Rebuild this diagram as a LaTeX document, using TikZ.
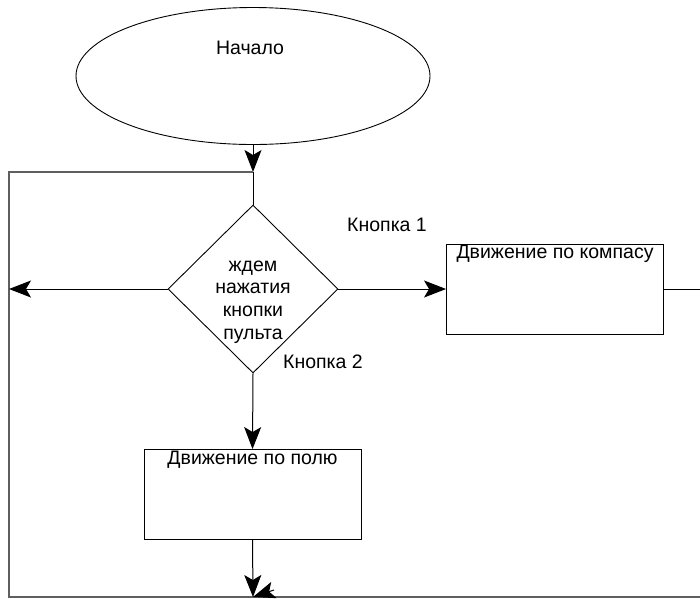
\documentclass[tikz,border=0pt]{standalone}
\usepackage{fontspec}
\setmainfont{Liberation Sans}
\usetikzlibrary{arrows.meta,positioning,shapes.geometric}
\definecolor{loopgray}{RGB}{95,95,95}
\tikzset{
  flow/.style={line width=1pt,black},
  tip/.style={-{Stealth[length=22pt,width=17pt,inset=5pt]}},
  loopline/.style={line width=1.4pt,loopgray},
  terminal/.style={ellipse,draw,line width=0.9pt,minimum width=354pt,minimum height=137pt,inner sep=0pt},
  waitbox/.style={diamond,draw,line width=0.9pt,minimum width=170pt,minimum height=168pt,inner sep=0pt},
  actbox/.style={rectangle,draw,line width=0.9pt,inner sep=0pt,minimum width=217pt,minimum height=90pt},
  txt/.style={font=\fontsize{19.5}{22.7}\selectfont}
}

\begin{document}
\begin{tikzpicture}[x=1pt,y=-1pt]
  \useasboundingbox (0,0) rectangle (700,598);

  % blocks
  \node[terminal] (start) at (253,76) {};
  \node[txt] (starttxt) at (250,48) {Начало};
  \node[waitbox] (wait) at (253,289) {};
  \node[txt,align=center] (waittxt) at (253,302) {ждем\\нажатия\\кнопки\\пульта};
  \node[actbox] (compass) at (555,289) {};
  \node[txt,below=-2pt of compass.north] (compasstxt) {Движение по компасу};
  \node[actbox] (field) at (252.5,494.5) {};
  \node[txt,below=-2pt of field.north] (fieldtxt) {Движение по полю};

  % branch labels
  \node[txt] (key1) at (387,225) {Кнопка 1};
  \node[txt] (key2) at (323,362) {Кнопка 2};

  % loop corners
  \coordinate (join) at (253,172);
  \coordinate (lefttop) at (9,172);
  \coordinate (leftend) at (9,289);
  \coordinate (leftbot) at (9,597);
  \coordinate (botjoin) at (253,597);
  \coordinate (botright) at (700,597);
  \coordinate (rightend) at (700,289);
  \coordinate (skew) at (274,590);

  % connectors
  \draw[flow,tip] (start.south) -- (join);
  \draw[flow] (join) -- (wait.north);
  \draw[loopline] (join) -- (lefttop) -- (leftbot) -- (botright);
  \draw[flow,tip] (wait.west) -- (leftend);
  \draw[flow,tip] (wait.east) -- (compass.west);
  \draw[flow,tip] (wait.south) -- (field.north);
  \draw[flow,tip] (field.south) -- (botjoin);
  \draw[flow] (compass.east) -- (rightend);
  \draw[flow,tip] (skew) -- (botjoin);
\end{tikzpicture}
\end{document}
